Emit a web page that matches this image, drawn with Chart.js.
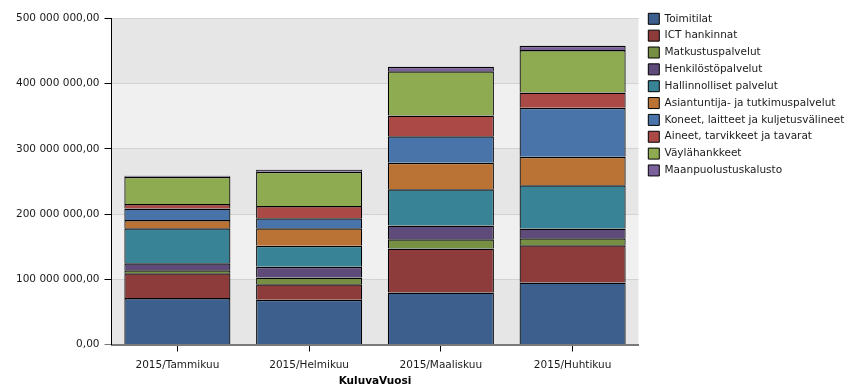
<!DOCTYPE html>
<html lang="fi">
<head>
<meta charset="utf-8">
<title>Hankinnat kuukausittain</title>
<script src="https://cdn.jsdelivr.net/npm/chart.js@4.4.1/dist/chart.umd.min.js"></script>
<style>
  html, body { margin: 0; padding: 0; background: #fff; }
  #wrap { position: relative; width: 846px; height: 388px; }
</style>
</head>
<body>
<div id="wrap"><canvas id="chart"></canvas></div>
<script>
/* ── data (euros) ─────────────────────────────────────────────── */
const months = ["2015/Tammikuu", "2015/Helmikuu", "2015/Maaliskuu", "2015/Huhtikuu"];

const toimitilat     = [71.1e6, 68.5e6, 79.7e6, 95.0e6];
const ictHankinnat   = [38.3e6, 24.0e6, 67.4e6, 57.3e6];
const matkustus      = [4.6e6, 10.1e6, 14.4e6, 10.7e6];
const henkilosto     = [10.7e6, 16.4e6, 20.8e6, 14.7e6];
const hallinnolliset = [53.6e6, 32.2e6, 55.8e6, 66.5e6];
const asiantuntija   = [12.7e6, 27.1e6, 40.3e6, 43.4e6];
const koneet         = [17.3e6, 15.3e6, 40.9e6, 75.1e6];
const aineet         = [7.2e6, 18.8e6, 31.6e6, 23.4e6];
const vaylahankkeet  = [41.8e6, 52.5e6, 68.0e6, 65.4e6];
const maanpuolustus  = [1.5e6, 3.1e6, 7.0e6, 6.6e6];

const series = [
  { label: "Toimitilat", data: toimitilat, color: "#3d5f8e" },
  { label: "ICT hankinnat", data: ictHankinnat, color: "#8e3c3b" },
  { label: "Matkustuspalvelut", data: matkustus, color: "#768f43" },
  { label: "Henkilöstöpalvelut", data: henkilosto, color: "#5f4b7a" },
  { label: "Hallinnolliset palvelut", data: hallinnolliset, color: "#388396" },
  { label: "Asiantuntija- ja tutkimuspalvelut", data: asiantuntija, color: "#bb7335" },
  { label: "Koneet, laitteet ja kuljetusvälineet", data: koneet, color: "#4874aa" },
  { label: "Aineet, tarvikkeet ja tavarat", data: aineet, color: "#ab4947" },
  { label: "Väylähankkeet", data: vaylahankkeet, color: "#8eab52" },
  { label: "Maanpuolustuskalusto", data: maanpuolustus, color: "#7a619b" },
];

const FONT = "DejaVu Sans";
Chart.defaults.font.family = FONT;
Chart.defaults.font.size = 10.5;
Chart.defaults.color = "#1a1a1a";

// 500000000 -> "500 000 000,00"
function fiNumber(v) {
  const parts = Number(v).toFixed(2).split(".");
  return parts[0].replace(/\B(?=(\d{3})+(?!\d))/g, " ") + "," + parts[1];
}

// alternating horizontal bands behind the bars
const bandPlugin = {
  id: "bands",
  beforeDraw(chart) {
    const { ctx, chartArea: a, scales } = chart;
    const y = scales.y;
    ctx.save();
    y.ticks.forEach((t, i) => {
      if (i === y.ticks.length - 1) return;
      const top = y.getPixelForValue(y.ticks[i + 1].value);
      const bottom = y.getPixelForValue(t.value);
      ctx.fillStyle = i % 2 === 0 ? "#e6e6e6" : "#f0f0f0";
      ctx.fillRect(a.left, top, a.right - a.left, bottom - top);
    });
    ctx.restore();
  },
};

new Chart(document.getElementById("chart"), {
  type: "bar",
  data: {
    labels: months,
    datasets: series.map((s) => ({
      label: s.label,
      data: s.data,
      backgroundColor: s.color,
      borderColor: "#000000",
      borderWidth: { top: 1.5, left: 1.2, right: 1.2, bottom: 0 },
      inflateAmount: 0,
      barPercentage: 0.805,
      categoryPercentage: 1.0,
    })),
  },
  options: {
    responsive: true,
    maintainAspectRatio: false,
    animation: false,
    layout: { padding: { top: 7.45, left: 0, right: 0, bottom: 0 } },
    plugins: {
      title: {
        display: true,
        text: "",
        padding: 0,
        font: { size: 10, lineHeight: "10.85px" },
      },
      tooltip: { enabled: false },
      legend: {
        position: "right",
        align: "start",
        maxWidth: 203.55,
        labels: {
          boxWidth: 11,
          boxHeight: 11,
          padding: 5.85,
          color: "#1a1a1a",
          font: { family: FONT, size: 10.5 },
          // legend swatches get a plain 1px outline
          generateLabels: (chart) =>
            Chart.defaults.plugins.legend.labels
              .generateLabels(chart)
              .map((item) => ({ ...item, lineWidth: 1 })),
        },
      },
    },
    scales: {
      x: {
        stacked: true,
        grid: {
          offset: false,
          drawOnChartArea: false,
          drawTicks: true,
          tickLength: 7,
          tickColor: "#000",
        },
        border: { display: true, color: "#7a7a7a", width: 2 },
        ticks: { padding: 7, color: "#1a1a1a", font: { size: 10.5 } },
        title: {
          display: true,
          text: "KuluvaVuosi",
          color: "#000",
          font: { size: 10.5, weight: "bold" },
          padding: { top: 0, bottom: 0 },
        },
        afterFit: (s) => { s.height = 43.5; },
      },
      y: {
        stacked: true,
        min: 0,
        max: 500e6,
        ticks: {
          stepSize: 100e6,
          padding: 5,
          color: "#1a1a1a",
          font: { size: 10.5 },
          callback: (v) => fiNumber(v),
        },
        grid: {
          color: "#d2d2d2",
          lineWidth: 1,
          tickLength: 7,
          tickColor: (c) => (c.index === 0 ? "#7a7a7a" : "#000"),
        },
        border: { display: true, color: "#000", width: 1 },
        afterFit: (s) => { s.width = 111.5; },
      },
      // small gap between plot and legend
      gap: {
        position: "right",
        display: true,
        grid: { display: false },
        ticks: { display: false },
        border: { display: false },
        afterFit: (s) => { s.width = 3.95; },
      },
    },
  },
  plugins: [bandPlugin],
});
</script>
</body>
</html>
